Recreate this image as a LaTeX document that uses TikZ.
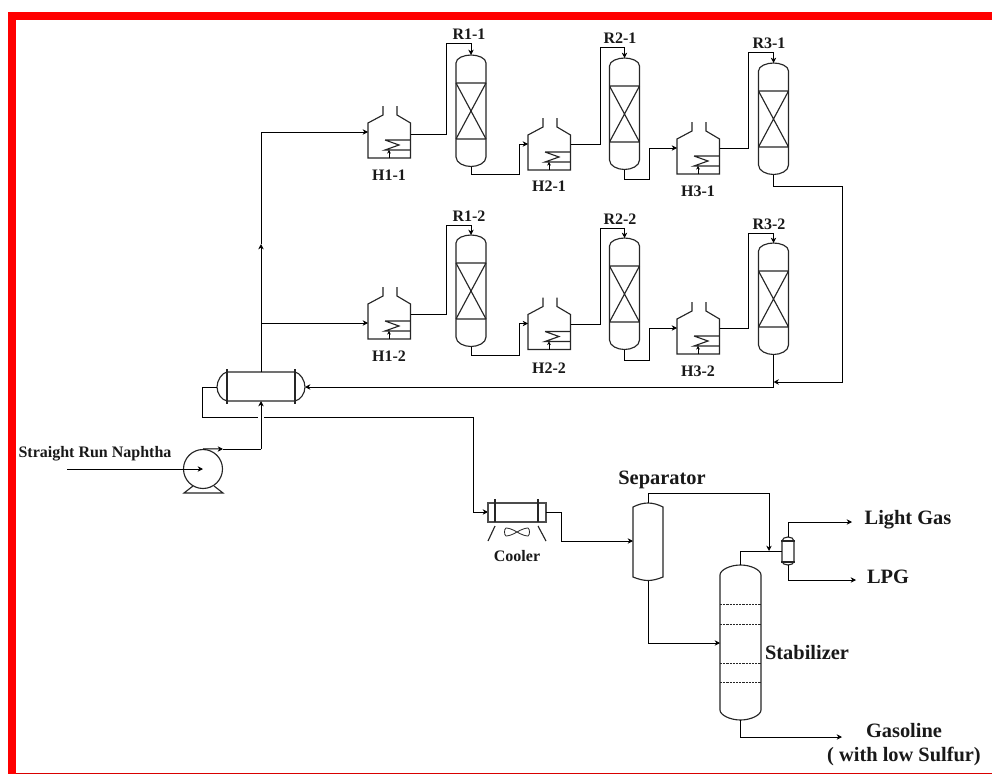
\documentclass[tikz,border=0pt]{standalone}
\usepackage{fontspec}
\setmainfont{Liberation Serif}
\usetikzlibrary{arrows.meta}
\tikzset{
  x=0.75pt,y=-0.75pt,
  pipe/.style={line width=0.75pt,line join=miter},
  flow/.style={pipe,-{Stealth[length=4pt,width=4pt]}},
  smallflow/.style={pipe,-{Stealth[length=2.6pt,width=2.8pt]}},
  vessel/.style={line width=0.85pt,black!85},
  lab/.style={font=\fontsize{12}{12}\bfseries\selectfont,inner sep=0pt,text=black!90},
  biglab/.style={font=\fontsize{15.3}{15.3}\bfseries\selectfont,inner sep=0pt,text=black!90},
  pics/heater/.style={code={
    \draw[vessel] (15,-52)--(15,-43)--(0,-35)--(0,0)--(42.5,0)--(42.5,-35)--(29,-43)--(29,-52);
    \draw[vessel] (17,-18)--(42.5,-18) (17,-18)--(31,-13)--(17,-8)--(42.5,-8);
    \coordinate (-burner) at (21,0);
    \coordinate (-coil) at (21,-8);
    \coordinate (-in) at (0,-26);
    \coordinate (-out) at (42.5,#1);
    \draw[smallflow] (-burner)--(-coil);
  }},
  pics/reactor/.style={code={
    \draw[vessel] (-15,102)--(-15,8) .. controls (-15,3) and (-7,0) .. (0,0)
      .. controls (7,0) and (15,3) .. (15,8)--(15,102)
      .. controls (15,108) and (7,111.5) .. (0,111.5)
      .. controls (-7,111.5) and (-15,108) .. (-15,102);
    \draw[vessel] (-15,28)--(15,28) (-15,84)--(15,84) (-15,28)--(15,84) (15,28)--(-15,84);
    \coordinate (-top) at (0,0);
    \coordinate (-bot) at (0,111.5);
  }},
}
\begin{document}
\begin{tikzpicture}
\useasboundingbox (0,0) rectangle (992,774);
\fill[white] (0,0) rectangle (992,774);
% red frame
\fill[red] (8,12) rectangle (992,20);
\fill[red] (8,12) rectangle (16,774);
\fill[red!85!black] (16,772.6) rectangle (992,773.6);

% heaters and reactors, first row
\pic (h11) at (368,158) {heater=-24};
\pic (r11) at (471,55) {reactor};
\pic (h21) at (528,170) {heater=-26};
\pic (r21) at (624.5,58) {reactor};
\pic (h31) at (677,174) {heater=-26};
\pic (r31) at (773.5,63) {reactor};
% second row
\pic (h12) at (368,339) {heater=-25};
\pic (r12) at (471,235) {reactor};
\pic (h22) at (528,349.5) {heater=-25.5};
\pic (r22) at (624.5,238) {reactor};
\pic (h32) at (677,354) {heater=-26};
\pic (r32) at (773.5,243) {reactor};

% way points
\coordinate (a11) at (446,44);
\coordinate (b11) at (519,174);
\coordinate (a21) at (600,48);
\coordinate (b21) at (649,179);
\coordinate (a31) at (748,53);
\coordinate (a12) at (446,225);
\coordinate (b12) at (519,355);
\coordinate (a22) at (600,228);
\coordinate (b22) at (649,360);
\coordinate (a32) at (748,233);

\draw[flow] (h11-out) -| (a11) -| (r11-top);
\draw[flow] (r11-bot) |- (b11) |- (h21-in);
\draw[flow] (h21-out) -| (a21) -| (r21-top);
\draw[flow] (r21-bot) |- (b21) |- (h31-in);
\draw[flow] (h31-out) -| (a31) -| (r31-top);
\draw[flow] (h12-out) -| (a12) -| (r12-top);
\draw[flow] (r12-bot) |- (b12) |- (h22-in);
\draw[flow] (h22-out) -| (a22) -| (r22-top);
\draw[flow] (r22-bot) |- (b22) |- (h32-in);
\draw[flow] (h32-out) -| (a32) -| (r32-top);

% feed drum
\coordinate (dL) at (217,387);
\coordinate (dR) at (305,387);
\coordinate (dT) at (261,372);
\coordinate (dB) at (261,401);
\draw[vessel] (227,372)--(295,372) .. controls (300,373) and (305,380) .. (dR)
  .. controls (305,394) and (300,400) .. (295,401)--(227,401)
  .. controls (222,400) and (217,394) .. (dL) .. controls (217,380) and (222,373) .. (227,372);
\draw[vessel] (227,369)--(227,404) (295,369)--(295,404);

% pump
\node[circle,draw,line width=0.85pt,black!85,minimum size=29.25pt,inner sep=0pt] (pump) at (203,469) {};
\draw[vessel] (193,486)--(184,493)--(223,493)--(214,486);
\coordinate (feed) at (67,469);
\draw[flow] (feed) -- (pump.center);
\coordinate (pm) at (223,449);
\coordinate (pj) at (261,449);
\draw[flow] (pump.north) -- (pm);
\draw[pipe] (pm) -- (pj);
\draw[flow] (pj) -- (dB);

% to the two trains
\coordinate (up) at (261,244);
\coordinate (t1) at (261,132);
\coordinate (t2) at (261,323);
\coordinate (h12feed) at (368,323);
\draw[flow] (dT) -- (up);
\draw[flow] (up) -- (t1) -- (h11-in);
\draw[flow] (t2) -- (h12feed);

% return from reactors
\coordinate (rj) at (842,186);
\coordinate (rk) at (842,382);
\coordinate (rm) at (773.5,382);
\draw[flow] (r31-bot) |- (rj) -- (rk) -- (rm);
\coordinate (sj) at (773.5,387);
\draw[flow] (r32-bot) -- (sj) -- (dR);

% cooler
\coordinate (c1) at (202,417);
\coordinate (gapL) at (258,417);
\coordinate (gapR) at (264,417);
\coordinate (c2) at (473,417);
\coordinate (c3) at (473,512);
\coordinate (cIn) at (488,512);
\coordinate (cOut) at (546,512);
\coordinate (c4) at (561,541);
\draw[pipe] (dL) -| (c1) -- (gapL);
\draw[flow] (gapR) -- (c2) -- (c3) -- (cIn);
\draw[vessel,black!70] (488,503) rectangle (546,522);
\draw[vessel] (495,499)--(495,522) (538,499)--(538,522);
\draw[vessel] (495,526)--(488,541) (538,526)--(546,541);
\draw[line width=0.6pt,black!85] (517,532) .. controls (512,529) and (508,528) .. (506,528)
  .. controls (504,529) and (504,535) .. (506,536)
  .. controls (508,536) and (512,535) .. (517,532)
  .. controls (522,529) and (526,528) .. (528,528)
  .. controls (530,529) and (530,535) .. (528,536)
  .. controls (526,536) and (522,535) .. (517,532);

% separator
\coordinate (sT) at (648,503);
\coordinate (sB) at (648,580.5);
\coordinate (sIn) at (633,541);
\draw[vessel] (633,507) .. controls (638,504.5) and (643,503) .. (sT)
  .. controls (653,503) and (658,504.5) .. (663,507) -- (663,577)
  .. controls (658,579) and (653,580.5) .. (sB)
  .. controls (643,580.5) and (638,579) .. (633,577) -- cycle;
\draw[flow] (cOut) -| (c4) -- (sIn);

% stabilizer
\coordinate (stT) at (740.5,565);
\coordinate (stB) at (740.5,720);
\coordinate (stIn) at (720,643);
\draw[vessel] (720,575) .. controls (720,570) and (730,565) .. (stT)
  .. controls (751,565) and (761,570) .. (761,575) -- (761,710)
  .. controls (761,715) and (751,720) .. (stB)
  .. controls (730,720) and (720,715) .. (720,710) -- cycle;
\foreach \yy in {604,624,663,682}
  \draw[line width=0.7pt,dash pattern=on 1.6pt off 0.8pt,black!85] (720,\yy)--(761,\yy);

% overhead drum
\coordinate (oT) at (788,537);
\coordinate (oB) at (788,565);
\coordinate (oL) at (782,551);
\draw[vessel] (782,541) .. controls (782,538.5) and (785,537) .. (oT)
  .. controls (791,537) and (794,538.5) .. (794,541) -- (794,561.5)
  .. controls (794,563.5) and (791,565) .. (oB)
  .. controls (785,565) and (782,563.5) .. (782,561.5) -- cycle;
\draw[vessel] (781,541)--(795,541) (781,562)--(795,562);

\coordinate (sU) at (648,493);
\coordinate (mix) at (769,551);
\coordinate (stU) at (740.5,551);
\coordinate (gasEnd) at (852,522);
\coordinate (lpgEnd) at (856,580);
\coordinate (gasoEnd) at (842,737);
\coordinate (sD) at (648,643);
\draw[flow] (sT) -- (sU) -| (mix);
\draw[pipe] (stT) -- (stU) -- (oL);
\draw[flow] (sB) -- (sD) -- (stIn);
\draw[flow] (oT) |- (gasEnd);
\draw[flow] (oB) |- (lpgEnd);
\draw[flow] (stB) |- (gasoEnd);

% labels
\node[lab] (lr11) at (469,34) {R1-1};
\node[lab] (lh11) at (389,175) {H1-1};
\node[lab] (lh21) at (549,186) {H2-1};
\node[lab] (lr21) at (620,38) {R2-1};
\node[lab] (lr31) at (769,43) {R3-1};
\node[lab] (lh31) at (698,191) {H3-1};
\node[lab] (lr12) at (469,216) {R1-2};
\node[lab] (lh12) at (389,356) {H1-2};
\node[lab] (lr22) at (620,219) {R2-2};
\node[lab] (lh22) at (549,368) {H2-2};
\node[lab] (lh32) at (698,371) {H3-2};
\node[lab] (lr32) at (769,224) {R3-2};
\node[lab] (lnaph) at (95,454) {Straight Run Naphtha};
\node[lab] (lcool) at (517,556) {Cooler};
\node[biglab] (lsep) at (662,480) {Separator};
\node[biglab] (lstab) at (807,653) {Stabilizer};
\node[biglab] (lgas) at (908,520) {Light Gas};
\node[biglab] (llpg) at (888,577) {LPG};
\node[biglab] (lgaso) at (904,731) {Gasoline};
\node[biglab] (lsulf) at (904,756) {( with low Sulfur)};
\end{tikzpicture}
\end{document}
